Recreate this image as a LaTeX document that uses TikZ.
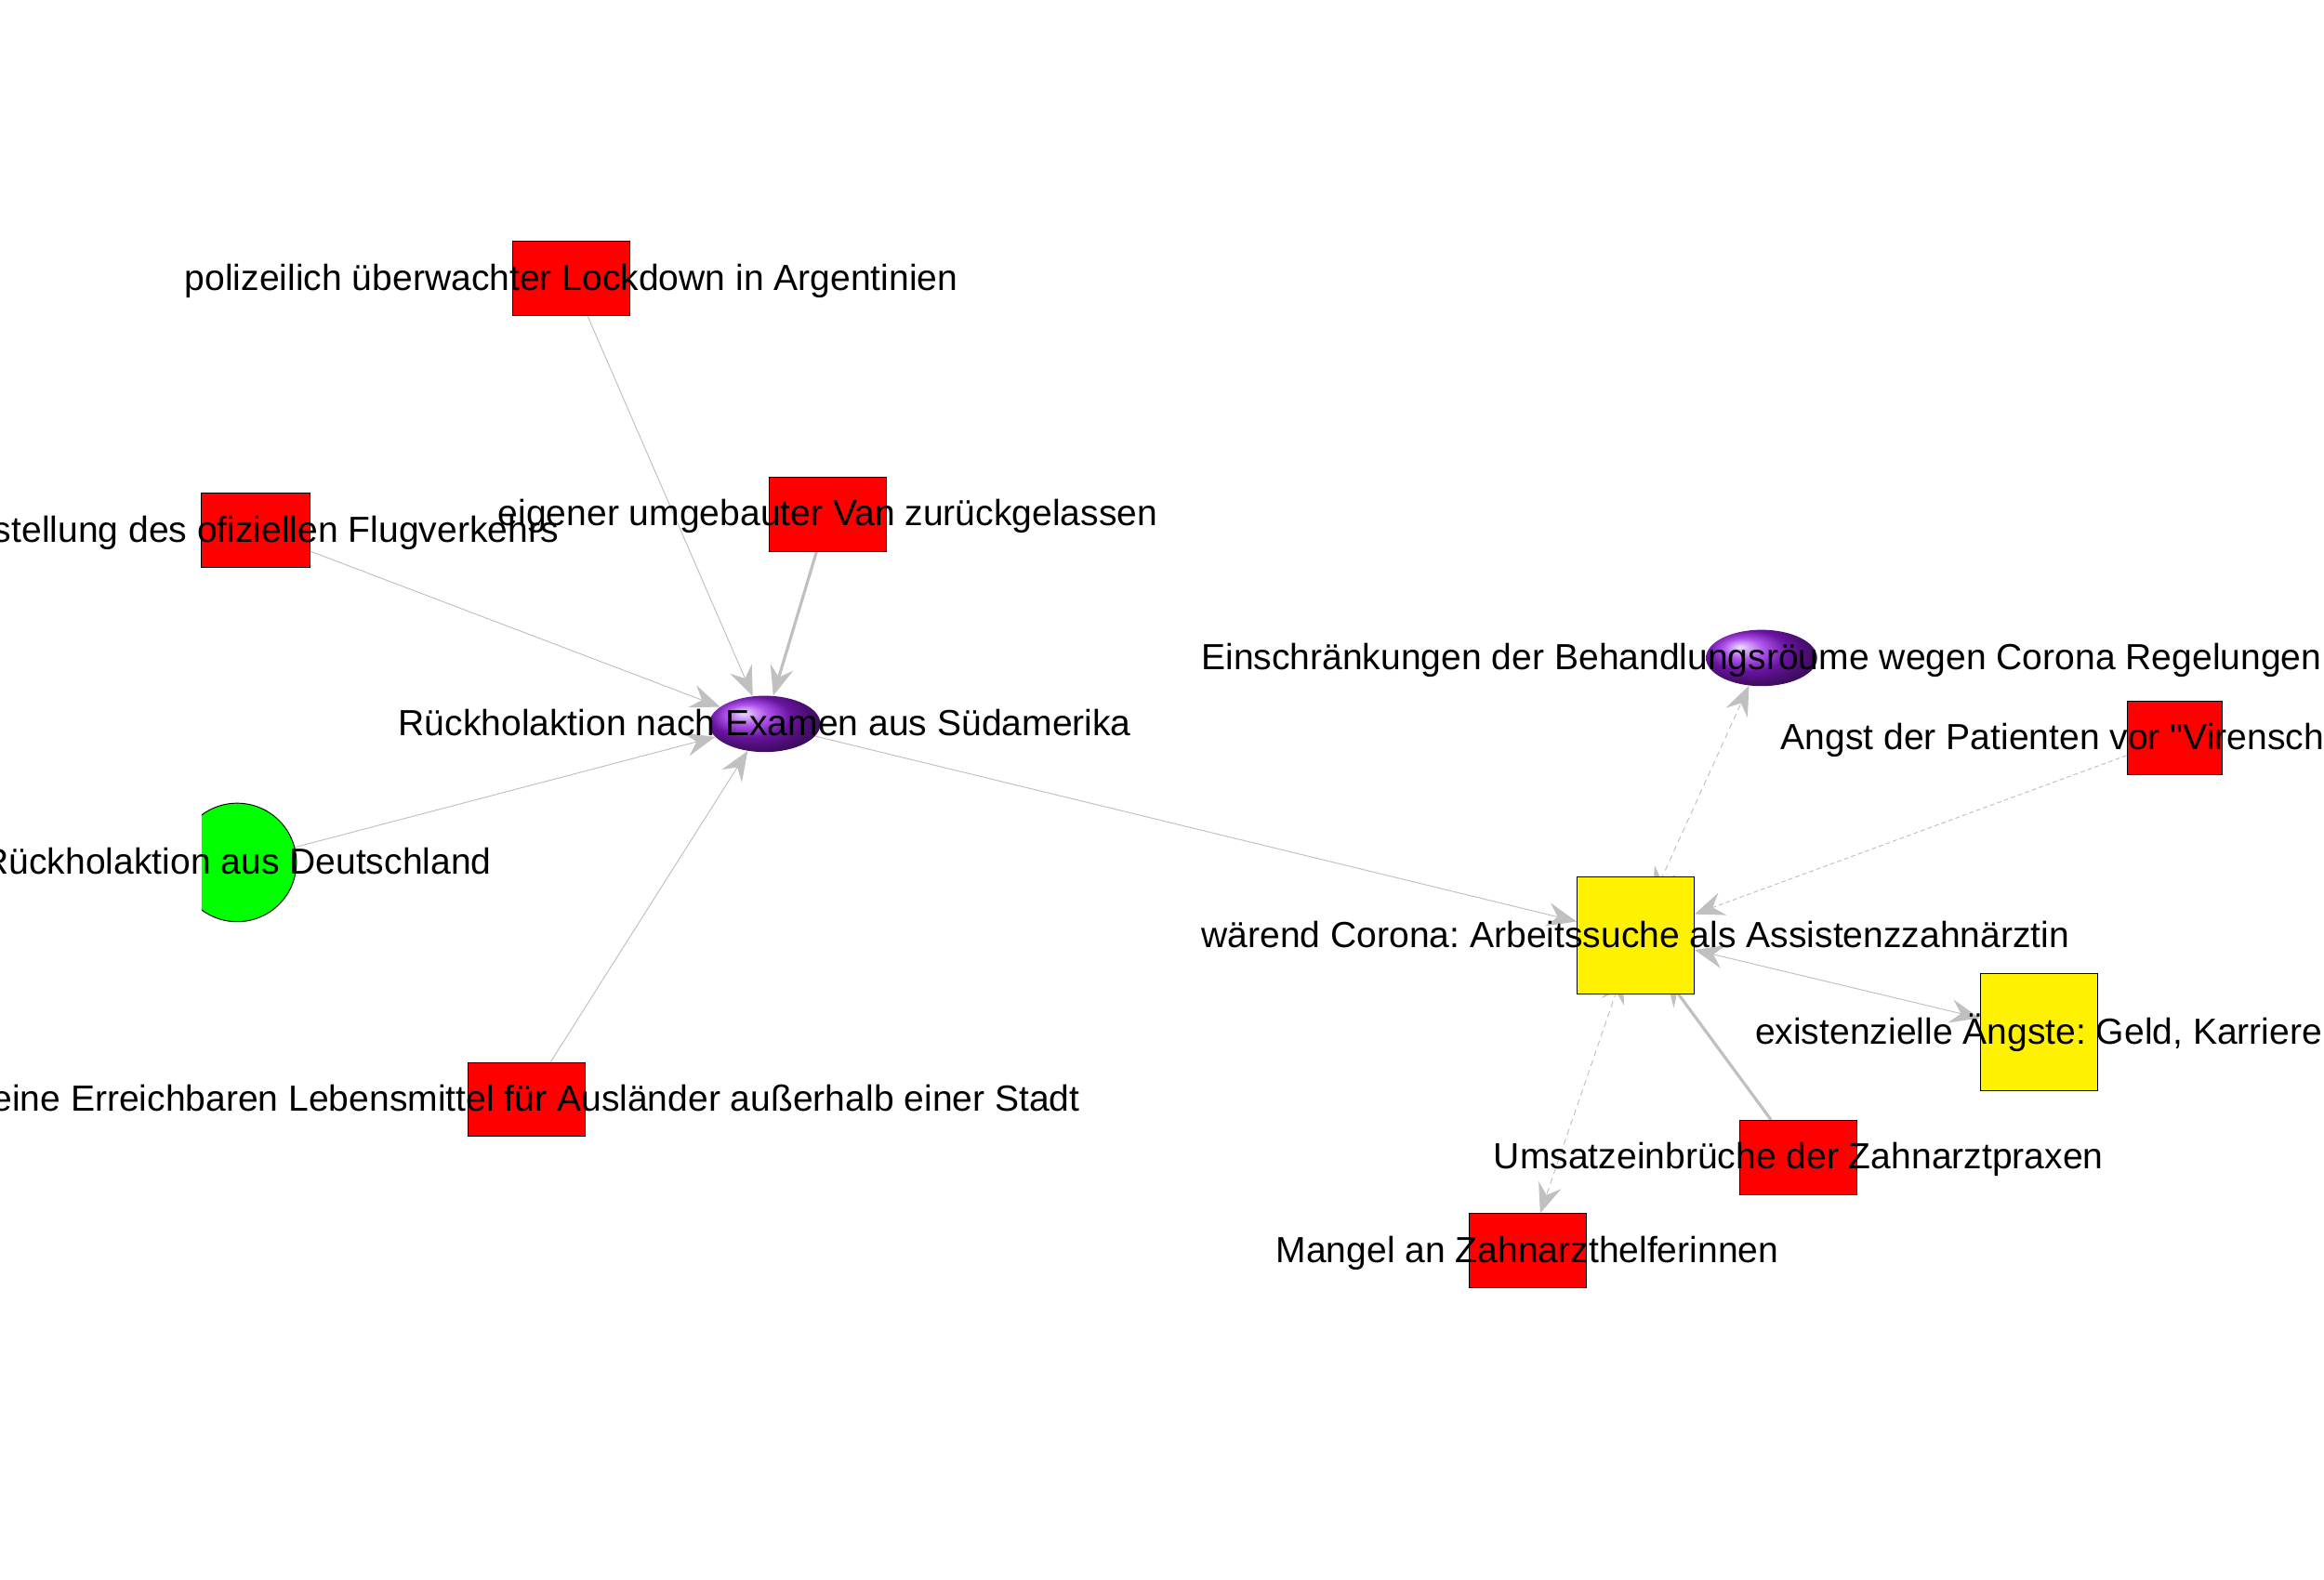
\documentclass[tikz,border=0pt]{standalone}
\usepackage{fontspec}
\setmainfont{Liberation Sans}[Ligatures=TeXOff]
\usetikzlibrary{arrows.meta,shapes.geometric,backgrounds}
\definecolor{edgegray}{RGB}{192,192,192}
\definecolor{purp}{RGB}{150,28,230}
\tikzset{gtip/.tip={Stealth[length=20pt,width=16pt,inset=7pt]}}
\frenchspacing
\begin{document}
\frenchspacing
\begin{tikzpicture}[x=1pt,y=-1pt,
  lbl/.style={font=\fontsize{24.5}{28}\selectfont\frenchspacing, text height=17.8pt, text depth=5.1pt, inner sep=0pt, text=black, yshift=-1.5pt},
  every label/.append style={lbl},
  redbox/.style={rectangle, draw=black, line width=0.6pt, fill=red, minimum width=79pt, minimum height=50pt, inner sep=0pt},
  yelbox/.style={rectangle, draw=black, line width=0.6pt, fill=yellow, minimum width=79pt, minimum height=79pt, inner sep=0pt},
  sphere/.style={ellipse, minimum width=75pt, minimum height=38pt, inner sep=0pt, ball color=purp},
  greenc/.style={circle, draw=black, line width=0.6pt, fill=green, minimum size=80pt, inner sep=0pt},
  link/.style={draw=edgegray, line width=0.6pt, -gtip},
  heavy/.style={line width=2pt},
  dsh/.style={dash pattern=on 4pt off 3pt},
  dshfine/.style={dash pattern=on 3pt off 2pt}
]
\useasboundingbox (0,0) rectangle (1568,1066);

% nodes
\node[redbox, label={center:polizeilich überwachter Lockdown in Argentinien}] (lock) at (385.5,188) {};
\node[redbox, minimum width=73pt, label={[xshift=-4pt]center:Einstellung des ofiziellen Flugverkehrs}] (flug) at (172.5,358) {};
\node[redbox, label={center:eigener umgebauter Van zurückgelassen}] (van) at (558.5,347) {};
\node[sphere, label={center:Rückholaktion nach Examen aus Südamerika}] (rueck) at (516,488.5) {};
\begin{scope}
  \clip (136,0) rectangle (1568,1066);
  \node[greenc] (deu) at (160,582) {};
\end{scope}
\node[lbl] (deutxt) at (deu) {Rückholaktion aus Deutschland};
\node[redbox, label={center:keine Erreichbaren Lebensmittel für Ausländer außerhalb einer Stadt}] (leben) at (355.5,742) {};

\node[yelbox, label={center:wärend Corona: Arbeitssuche als Assistenzzahnärztin}] (waer) at (1103.5,631.5) {};
\node[sphere, label={center:Einschränkungen der Behandlungsröume wegen Corona Regelungen}] (einschr) at (1188.5,444) {};
\node[redbox, minimum width=64pt, label={[xshift=-37pt]center:Angst der Patienten vor "Virenschleudern"}] (angst) at (1467,498) {};
\node[yelbox, label={center:existenzielle Ängste: Geld, Karriere}] (exist) at (1375.5,696.5) {};
\node[redbox, label={center:Umsatzeinbrüche der Zahnarztpraxen}] (umsatz) at (1213.5,781) {};
\node[redbox, label={center:Mangel an Zahnarzthelferinnen}] (mangel) at (1030.5,844) {};

% edges
\begin{scope}[on background layer]
  \fill[white] (0,0) rectangle (1568,1066);
  \draw[link] (lock) -- (rueck);
  \draw[link] (flug) -- (rueck);
  \draw[link, heavy] (van) -- (rueck);
  \draw[link] (deu) -- (rueck);
  \draw[link] (leben) -- (rueck);
  \draw[link] (rueck) -- (waer);
  \draw[link, dsh, gtip-gtip, shorten <=-15pt] (waer) -- (einschr);
  \draw[link, dshfine] (angst) -- (waer);
  \draw[link, gtip-gtip] (waer) -- (exist);
  \draw[link, heavy, shorten >=-15pt] (umsatz) -- (waer);
  \draw[link, dsh, gtip-gtip, shorten <=-15pt] (waer) -- (mangel);
\end{scope}
\end{tikzpicture}
\end{document}
